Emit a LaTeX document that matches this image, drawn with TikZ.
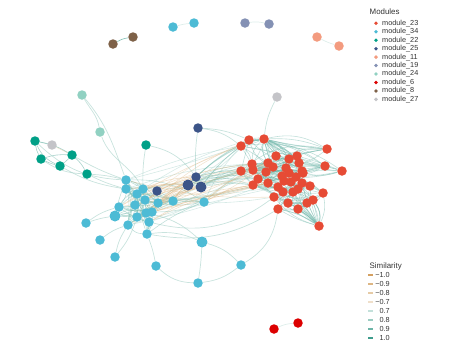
\documentclass[tikz,border=0pt]{standalone}
\usepackage{fontspec}
\setmainfont{Liberation Sans}
\pgfdeclarelayer{bg}
\pgfsetlayers{bg,main}
\definecolor{c23}{HTML}{E64B35}
\definecolor{c34}{HTML}{4DBBD5}
\definecolor{c22}{HTML}{00A087}
\definecolor{c25}{HTML}{3C5488}
\definecolor{c11}{HTML}{F39B7F}
\definecolor{c19}{HTML}{8491B4}
\definecolor{c24}{HTML}{91D1C2}
\definecolor{c6}{HTML}{DC0000}
\definecolor{c8}{HTML}{7E6148}
\definecolor{c27}{HTML}{C4C4C8}
\definecolor{pos1}{HTML}{3E9C8C}
\definecolor{pos2}{HTML}{6DB5A8}
\definecolor{pos3}{HTML}{9CCCC2}
\definecolor{pos4}{HTML}{C3E0DA}
\definecolor{neg1}{HTML}{D4A061}
\definecolor{neg2}{HTML}{DDB684}
\definecolor{neg3}{HTML}{E6CBA6}
\definecolor{neg4}{HTML}{EFDFCA}
\definecolor{txt}{HTML}{333333}
\tikzset{
  mod/.style={circle,inner sep=0pt,minimum size=9.5pt,fill=#1},
  big/.style={minimum size=11pt},
  pe/.style={draw=pos2,line width=0.6pt,opacity=0.42},
  pl/.style={draw=pos3,line width=0.7pt,opacity=0.55},
  ne/.style={draw=neg2,line width=0.6pt,opacity=0.45},
  legtxt/.style={font=\fontsize{7.3}{8}\selectfont,text=txt,inner sep=0pt,anchor=west},
  legttl/.style={font=\fontsize{7.9}{9}\selectfont,text=txt,inner sep=0pt,anchor=west},
  legdot/.style={circle,inner sep=0pt,minimum size=3.8pt,fill=#1},
  legline/.style={inner sep=0pt,minimum width=5pt,minimum height=1.4pt,fill=#1}
}
\begin{document}
\begin{tikzpicture}[x=1pt,y=-1pt]
\useasboundingbox (0,0) rectangle (450,360);
% red cluster module_23
\foreach \n/\x/\y in {1/264/139,2/249/140,3/241/146,4/327/149,5/276/156,6/289/159,7/297/156,8/299/163,9/252/164,10/268/163,11/273/167,12/325/166,13/286/168,14/302/171,15/342/171,16/241/171,17/253/170,18/266/172,19/282/176,20/289/173,21/296/177,22/303/173,23/258/179,24/268/183,25/284/181,26/291/182,27/302/183,28/253/185,29/278/187,30/310/186,31/283/192,32/293/192,33/298/189,34/323/193,35/274/197,36/313/200,37/307/203,38/288/203,39/298/209,40/278/209,41/319/226}
  \node[mod=c23] (r\n) at (\x,\y) {};
% blue module_34
\foreach \n/\x/\y in {1/126/180,2/126/189,3/143/189,4/137/194,5/145/200,6/158/203,7/173/201,8/119/207,9/135/205,11/137/217,12/146/213,13/152/212,14/128/225,15/149/222,16/147/234,17/204/202,19/86/223,20/100/240,21/115/257,22/156/266,23/198/283,24/241/265,25/173/27,26/194/23}
  \node[mod=c34] (b\n) at (\x,\y) {};
\node[mod=c34,big] (b10) at (115,216) {};
\node[mod=c34,big] (b18) at (202,242) {};
% navy module_25
\node[mod=c25] (n1) at (198,128) {};
\node[mod=c25] (n2) at (157,191) {};
\node[mod=c25] (n3) at (196,177) {};
\node[mod=c25,big] (n4) at (188,185) {};
\node[mod=c25,big] (n5) at (201,187) {};
% green module_22
\foreach \n/\x/\y in {1/35/141,2/41/159,3/60/166,4/72/155,5/87/174,6/146/145}
  \node[mod=c22] (g\n) at (\x,\y) {};
% others
\node[mod=c27] (k1) at (52,145) {};
\node[mod=c27] (k2) at (277,97) {};
\node[mod=c24] (l1) at (82,95) {};
\node[mod=c24] (l2) at (100,132) {};
\node[mod=c8] (w1) at (113,44) {};
\node[mod=c8] (w2) at (133,37) {};
\node[mod=c19] (p1) at (245,23) {};
\node[mod=c19] (p2) at (269,24) {};
\node[mod=c11] (s1) at (317,37) {};
\node[mod=c11] (s2) at (339,46) {};
\node[mod=c6] (d1) at (274,329) {};
\node[mod=c6] (d2) at (298,323) {};

\begin{pgfonlayer}{bg}
\pgfmathsetseed{7}
% red internal
\foreach \i in {1,...,41}{
  \foreach \k in {1,...,7}{
    \pgfmathtruncatemacro\j{max(1,min(41,\i+random(-14,14)))}
    \pgfmathtruncatemacro\bb{random(-25,25)}
    \ifnum\j=\i\else \draw[pe] (r\i) to[bend left=\bb] (r\j);\fi
  }
}
% blue internal
\foreach \i in {1,...,17}{
  \foreach \k in {1,...,5}{
    \pgfmathtruncatemacro\j{random(1,16)}
    \pgfmathtruncatemacro\bb{random(-25,25)}
    \ifnum\j=\i\else \draw[pe] (b\i) to[bend left=\bb] (b\j);\fi
  }
}
% bridge blue - red
\foreach \k in {1,...,40}{
  \pgfmathtruncatemacro\a{random(1,17)}
  \pgfmathtruncatemacro\c{{2,3,9,16,17,23,28,24,18,10,11,29,35}[random(0,12)]}
  \pgfmathtruncatemacro\bb{random(-12,12)}
  \ifodd\k \draw[pe,opacity=0.28] (b\a) to[bend left=\bb] (r\c);
  \else \draw[ne,opacity=0.38] (b\a) to[bend left=\bb] (r\c);\fi
}
% navy edges
\foreach \m in {3,4,5}{
  \foreach \c in {2,3,9,16,17,23,28}{
    \draw[pe,opacity=0.35] (n\m) to[bend left=8] (r\c);
  }
  \foreach \a in {3,5,6,7,12,13}{
    \draw[ne] (n\m) to[bend right=10] (b\a);
  }
}
\foreach \a in {3,4,5,6}{\draw[ne] (n2) to[bend left=10] (b\a);}
\foreach \c in {3,16,9}{\draw[ne,opacity=0.3] (n2) to[bend left=10] (r\c);}
\draw[pl] (n1) to[bend left=15] (r3);
\draw[pl] (n1) to[bend right=5] (n3);
\draw[pl] (n1) to[bend left=10] (r2);
% green 6
\draw[pl] (g6) to[bend right=5] (b3);
\draw[pl] (g6) to[bend left=20] (n3);
% module_24
\draw[pl] (l1) to[out=-60,in=100] (l2);
\draw[pl] (l1) to[out=-50,in=110] (b1);
\draw[pl] (l2) to[out=-70,in=120] (b3);
% green cluster
\draw[pl] (g1) -- (k1);
\draw[ne] (k1) -- (g4);
\draw[pe,opacity=0.6] (g1) to[bend left=10] (g4);
\draw[pe,opacity=0.6] (g1) to[bend right=10] (g2);
\draw[pe,opacity=0.6] (g2) to[bend left=10] (g4);
\draw[pe,opacity=0.6] (g2) to[bend right=5] (g3);
\draw[pe,opacity=0.6] (g3) to[bend right=5] (g4);
\draw[pe,opacity=0.6] (g1) to[bend right=20] (g3);
\draw[pe,opacity=0.6] (g4) to[bend left=10] (g5);
\draw[pl] (g2) to[bend right=15] (g5);
\draw[pl] (g5) to[bend left=5] (b1);
\draw[pl] (g5) to[bend right=5] (b2);
\draw[pl] (g4) to[bend right=5] (b1);
\draw[pl] (g3) to[bend right=10] (b2);
\draw[pl] (g1) to[bend right=20] (b1);
% blue outliers
\draw[pl] (b19) to[bend left=5] (b10);
\draw[pl] (b19) to[bend left=10] (b8);
\draw[pl] (b20) to[bend left=10] (b14);
\draw[pl] (b21) to[bend left=10] (b14);
\draw[pl] (b21) to[bend right=10] (b11);
\draw[pl] (b22) to[bend right=5] (b16);
\draw[pl] (b22) to[bend right=20] (b23);
\draw[pl] (b18) to[bend right=15] (b16);
\draw[pl] (b18) to[bend right=15] (b12);
\draw[pl] (b18) to[bend left=3] (b23);
\draw[pl] (b18) to[bend left=15] (b24);
\draw[pl] (b23) to[bend right=15] (b24);
\draw[pl] (b24) to[bend right=25] (r40);
\draw[pl] (b17) to[bend right=10] (b7);
\draw[pl] (b17) to[bend left=10] (b13);
\draw[ne] (b17) to[bend left=10] (r28);
\draw[pl] (b16) to[bend right=20] (r40);
\draw[pl] (b15) to[bend right=25] (r35);
% top grey
\draw[pl] (k2) to[bend right=10] (r1);
% pairs
\draw[pe,opacity=0.9] (w1) to[bend left=10] (w2);
\draw[pl,draw=pos4] (b25) to[bend left=5] (b26);
\draw[pl,draw=pos4] (p1) to[bend left=10] (p2);
\draw[pl,draw=pos4] (s1) to[bend right=5] (s2);
\draw[pl,draw=pos4] (d1) to[bend left=10] (d2);
\end{pgfonlayer}

% legend Modules
\node[legttl] (mt) at (369.5,11.5) {Modules};
\foreach \i/\c/\t in {0/c23/module\_23,1/c34/module\_34,2/c22/module\_22,3/c25/module\_25,4/c11/module\_11,5/c19/module\_19,6/c24/module\_24,7/c6/module\_6,8/c8/module\_8,9/c27/module\_27}{
  \node[legdot=\c] (md\i) at (376,23.3+8.45*\i) {};
  \node[legtxt] (ml\i) at (382,23.3+8.45*\i) {\t};
}
% legend Similarity
\node[legttl] (st) at (369.5,266.5) {Similarity};
\foreach \i/\c/\t in {0/neg1/−1.0,1/neg2/−0.9,2/neg3/−0.8,3/neg4/−0.7,4/pos4/0.7,5/pos3/0.8,6/pos2/0.9,7/pos1/1.0}{
  \node[legline=\c] (sl\i) at (370.5,275+9*\i) {};
  \node[legtxt,anchor=east] (sv\i) at (390,275+9*\i) {\t};
}
\end{tikzpicture}
\end{document}
